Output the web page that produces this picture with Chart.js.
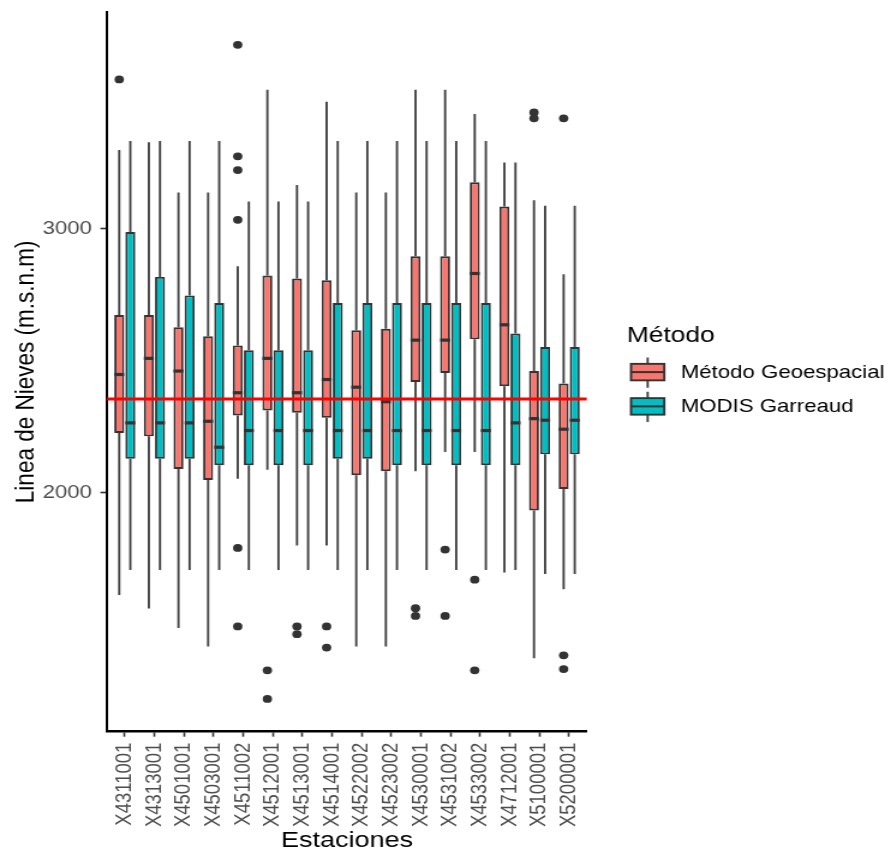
<!DOCTYPE html>
<html lang="es">
<head>
<meta charset="utf-8">
<title>Línea de Nieves por estación</title>
<script src="https://cdn.jsdelivr.net/npm/chart.js@4.4.1/dist/chart.umd.min.js"></script>
<style>
  html, body { margin: 0; padding: 0; background: #ffffff; }
</style>
</head>
<body>
<!-- the drawing surface is widened horizontally to the page width -->
<canvas id="chart" width="742" height="851" style="display:block;width:891px;height:851px;"></canvas>
<script>
// Stations (x categories)
const STATIONS = ['X4311001','X4313001','X4501001','X4503001','X4511002','X4512001','X4513001','X4514001',
                  'X4522002','X4523002','X4530001','X4531002','X4533002','X4712001','X5100001','X5200001'];

const SERIES = ['Método Geoespacial', 'MODIS Garreaud'];
const LEGEND_TITLE = 'Método';
const Y_TICKS = [2000, 3000];
const REFERENCE_LEVEL = 2355;

// Método Geoespacial: whisker ends, quartiles, median, outliers (m.s.n.m)
const GEO_LOW  = [1614, 1563, 1489, 1419, 2054, 2088, 1801, 1801, 1419, 1419, 2082, 2155, 2155, 1699, 1375, 1636];
const GEO_Q1   = [2227, 2214, 2091, 2049, 2293, 2312, 2303, 2284, 2067, 2082, 2420, 2454, 2581, 2404, 1934, 2015];
const GEO_MED  = [2448, 2509, 2461, 2271, 2379, 2509, 2379, 2429, 2400, 2345, 2578, 2578, 2830, 2636, 2281, 2241];
const GEO_Q3   = [2673, 2673, 2627, 2593, 2558, 2822, 2811, 2804, 2615, 2621, 2895, 2895, 3175, 3083, 2461, 2414];
const GEO_HIGH = [3297, 3326, 3136, 3136, 2857, 3525, 3165, 3480, 3136, 3136, 3525, 3525, 3433, 3250, 3107, 2827];
const GEO_OUTLIERS = [
  [3564], [], [], [], [3695, 3273, 3221, 3033, 1792, 1495], [1329, 1221], [1495, 1466], [1495, 1415],
  [], [], [1564, 1535], [1786, 1535], [1672, 1329], [], [3439, 3417], [3417, 1386, 1334]
];

// MODIS Garreaud
const MOD_LOW  = [1709, 1709, 1709, 1709, 1709, 1709, 1709, 1709, 1709, 1709, 1709, 1709, 1709, 1709, 1693, 1693];
const MOD_Q1   = [2129, 2129, 2129, 2105, 2105, 2105, 2105, 2129, 2129, 2105, 2105, 2105, 2105, 2105, 2146, 2146];
const MOD_MED  = [2265, 2265, 2265, 2173, 2236, 2236, 2236, 2236, 2236, 2236, 2236, 2236, 2236, 2265, 2275, 2275];
const MOD_Q3   = [2987, 2817, 2747, 2718, 2540, 2540, 2540, 2718, 2718, 2718, 2718, 2718, 2718, 2603, 2552, 2552];
const MOD_HIGH = [3331, 3331, 3331, 3331, 3102, 3102, 3102, 3331, 3331, 3331, 3331, 3331, 3331, 3250, 3086, 3086];
const MOD_OUTLIERS = STATIONS.map(() => []);

// axis limits
const Y_MIN = 1097, Y_MAX = 3819;
const X_MIN = -0.6, X_MAX = STATIONS.length - 1 + 0.6;

const FONT = '"Liberation Sans", Arial, Helvetica, sans-serif';
const COLORS = ['#F8766D', '#00BFC4'];
const OUTLINE = '#333333';
const WHISKER = '#444444';
const GROUP_WIDTH = 0.75;          // share of a category taken by the pair of boxes
const DODGE = GROUP_WIDTH / 4;     // offset of each box centre from the category centre

Chart.defaults.font.family = FONT;

function boxDataset(label, color, low, q1, med, q3, high) {
  return {
    type: 'bar',
    label,
    data: STATIONS.map((_, i) => ({ x: i, y: [q1[i], q3[i]] })),
    backgroundColor: color,
    borderColor: OUTLINE,
    borderWidth: 1.9,
    borderSkipped: false,
    categoryPercentage: GROUP_WIDTH,
    barPercentage: 0.9,
    order: 3,
    whiskerLow: low, whiskerHigh: high, q1, q3, median: med
  };
}

function outlierDataset(label, lists, shift) {
  return {
    type: 'scatter',
    label,
    data: lists.flatMap((vals, i) => vals.map(v => ({ x: i + shift, y: v }))),
    pointRadius: 3.9,
    pointHoverRadius: 3.9,
    backgroundColor: OUTLINE,
    borderWidth: 0,
    order: 1
  };
}

// whiskers beneath each box, medians on top of it
const boxWhiskers = {
  id: 'boxWhiskers',
  beforeDatasetDraw(chart, args) {
    const ds = chart.data.datasets[args.index];
    if (!ds.whiskerLow) return;
    const y = chart.scales.y, ctx = chart.ctx;
    ctx.save();
    ctx.strokeStyle = WHISKER;
    ctx.lineWidth = 1.9;
    args.meta.data.forEach((bar, i) => {
      ctx.beginPath();
      ctx.moveTo(bar.x, y.getPixelForValue(ds.whiskerHigh[i]));
      ctx.lineTo(bar.x, y.getPixelForValue(ds.q3[i]));
      ctx.moveTo(bar.x, y.getPixelForValue(ds.q1[i]));
      ctx.lineTo(bar.x, y.getPixelForValue(ds.whiskerLow[i]));
      ctx.stroke();
    });
    ctx.restore();
  },
  afterDatasetDraw(chart, args) {
    const ds = chart.data.datasets[args.index];
    if (!ds.median) return;
    const y = chart.scales.y, ctx = chart.ctx;
    ctx.save();
    ctx.strokeStyle = OUTLINE;
    ctx.lineWidth = 3.2;
    args.meta.data.forEach((bar, i) => {
      const py = y.getPixelForValue(ds.median[i]);
      ctx.beginPath();
      ctx.moveTo(bar.x - bar.width / 2, py);
      ctx.lineTo(bar.x + bar.width / 2, py);
      ctx.stroke();
    });
    ctx.restore();
  }
};

// legend with box-plot keys, to the right of the panel
const boxLegend = {
  id: 'boxLegend',
  afterDraw(chart) {
    const { ctx, chartArea } = chart;
    const cy = (chartArea.top + chartArea.bottom) / 2;
    const left = chartArea.right + 36.7;
    const keyW = 27.7, keyH = 16.5;
    ctx.save();
    ctx.fillStyle = '#000000';
    ctx.font = `22px ${FONT}`;
    ctx.textBaseline = 'alphabetic';
    ctx.textAlign = 'left';
    ctx.fillText(LEGEND_TITLE, chartArea.right + 33.1, cy - 30);
    SERIES.forEach((name, i) => {
      const top = cy - 8 + i * 34.3;
      const cx = left + keyW / 2;
      ctx.strokeStyle = WHISKER;
      ctx.lineWidth = 1.9;
      ctx.beginPath();
      ctx.moveTo(cx, top - 6.3); ctx.lineTo(cx, top);
      ctx.moveTo(cx, top + keyH); ctx.lineTo(cx, top + keyH + 7.3);
      ctx.stroke();
      ctx.fillStyle = COLORS[i];
      ctx.fillRect(left, top, keyW, keyH);
      ctx.strokeStyle = OUTLINE;
      ctx.lineWidth = 1.9;
      ctx.strokeRect(left, top, keyW, keyH);
      ctx.lineWidth = 2;
      ctx.beginPath();
      ctx.moveTo(left, top + keyH / 2); ctx.lineTo(left + keyW, top + keyH / 2);
      ctx.stroke();
      ctx.fillStyle = '#000000';
      ctx.font = `18.5px ${FONT}`;
      ctx.textBaseline = 'middle';
      ctx.fillText(name, chartArea.right + 78.1, top + keyH / 2 + 1);
    });
    ctx.restore();
  }
};

const AXIS_LABEL = '#4D4D4D';

new Chart(document.getElementById('chart'), {
  type: 'bar',
  data: {
    datasets: [
      boxDataset(SERIES[0], COLORS[0], GEO_LOW, GEO_Q1, GEO_MED, GEO_Q3, GEO_HIGH),
      boxDataset(SERIES[1], COLORS[1], MOD_LOW, MOD_Q1, MOD_MED, MOD_Q3, MOD_HIGH),
      outlierDataset(SERIES[0], GEO_OUTLIERS, -DODGE),
      outlierDataset(SERIES[1], MOD_OUTLIERS, DODGE),
      {
        type: 'line',
        label: 'Promedio',
        data: [{ x: X_MIN, y: REFERENCE_LEVEL }, { x: X_MAX, y: REFERENCE_LEVEL }],
        borderColor: '#FF0000',
        borderWidth: 3,
        pointRadius: 0,
        order: 0
      }
    ]
  },
  options: {
    responsive: false,
    animation: false,
    devicePixelRatio: 1,
    events: [],
    layout: { padding: { top: 12, right: 253.2, bottom: 0, left: 0 } },
    plugins: { legend: { display: false }, tooltip: { enabled: false } },
    scales: {
      x: {
        type: 'linear',
        min: X_MIN,
        max: X_MAX,
        offset: false,
        afterBuildTicks: s => { s.ticks = STATIONS.map((_, i) => ({ value: i })); },
        afterFit: s => { s.height = 851 - 731.7; s.paddingLeft = 0; s.paddingRight = 0; },
        ticks: {
          autoSkip: false, minRotation: 90, maxRotation: 90, padding: 6,
          color: AXIS_LABEL, font: { size: 18.5 },
          callback: v => STATIONS[v]
        },
        grid: { display: true, offset: false, drawOnChartArea: false, drawTicks: true,
                tickLength: 5, tickColor: '#333333', tickWidth: 1.6 },
        border: { display: true, color: '#000000', width: 2.5 },
        title: { display: true, text: 'Estaciones', color: '#000000',
                 font: { size: 22.5, lineHeight: 1 }, padding: { top: 0, bottom: -1.5 } }
      },
      y: {
        type: 'linear',
        min: Y_MIN,
        max: Y_MAX,
        beginAtZero: false,
        afterBuildTicks: s => { s.ticks = Y_TICKS.map(v => ({ value: v })); },
        afterFit: s => { s.width = 89.1; s.paddingTop = 0; s.paddingBottom = 0; },
        ticks: { color: AXIS_LABEL, font: { size: 18.5 }, padding: 7, callback: v => String(v) },
        grid: { display: true, drawOnChartArea: false, drawTicks: true,
                tickLength: 5.5, tickColor: '#333333', tickWidth: 1.6 },
        border: { display: true, color: '#000000', width: 2 },
        title: { display: true, text: 'Linea de Nieves (m.s.n.m)', color: '#000000',
                 font: { size: 22.5 }, padding: { top: 8, bottom: 0 } }
      }
    }
  },
  plugins: [boxWhiskers, boxLegend]
});
</script>
</body>
</html>
